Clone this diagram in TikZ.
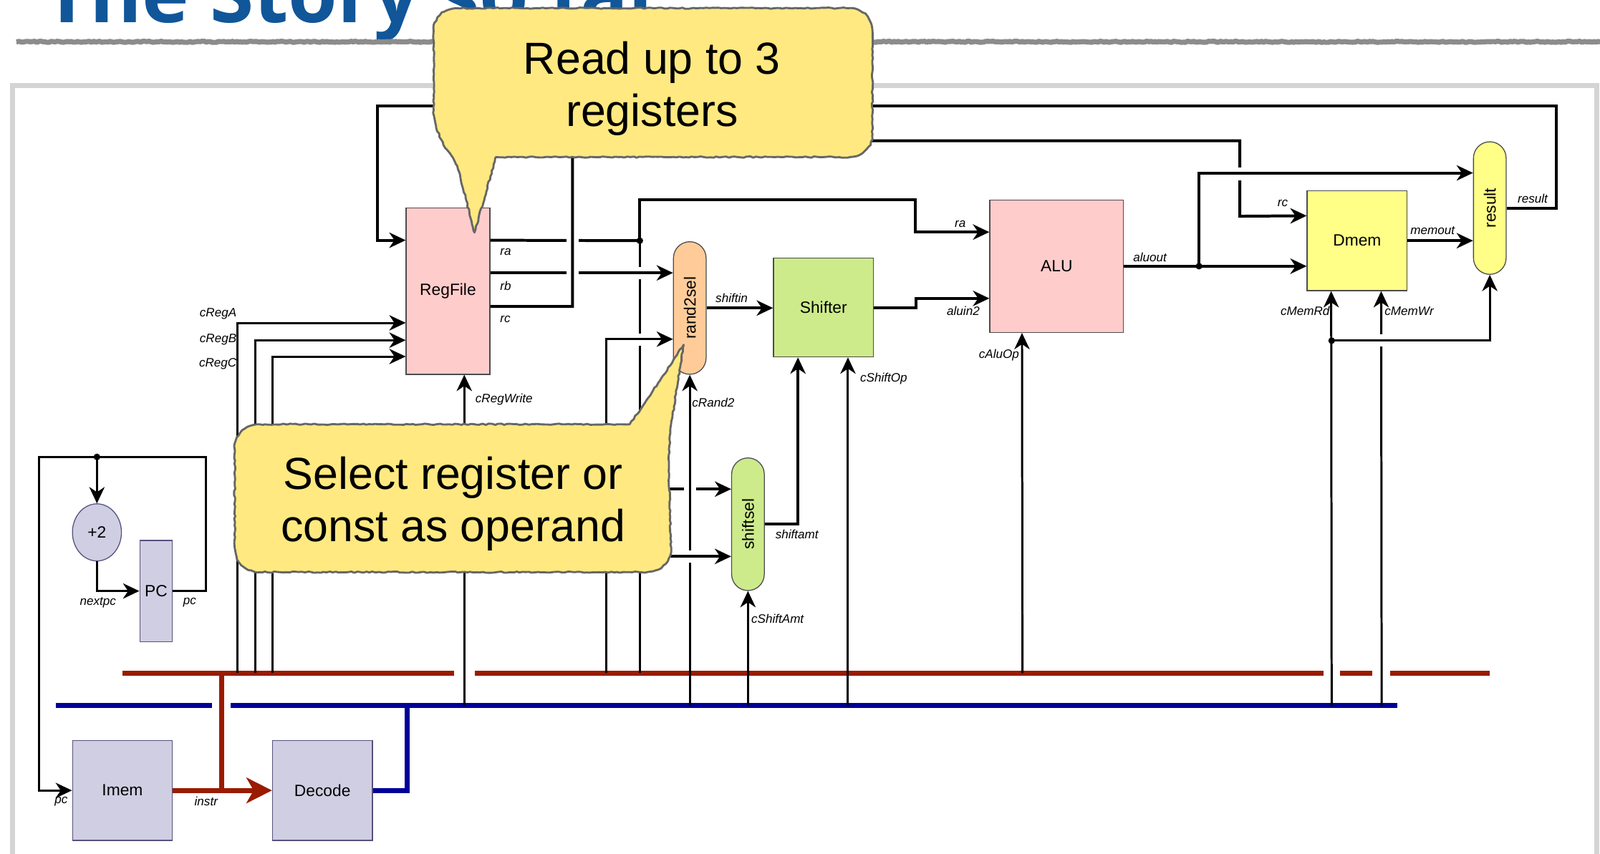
\documentclass[tikz,border=0pt]{standalone}
\usepackage{fontspec}
\setmainfont{Liberation Sans}
\newfontfamily\titlefont{Open Sans}
\usetikzlibrary{arrows.meta,calc,shapes.geometric,decorations.pathmorphing}

\definecolor{regpink}{RGB}{255,204,204}
\definecolor{selorange}{RGB}{255,204,153}
\definecolor{shiftgreen}{RGB}{205,235,139}
\definecolor{memyellow}{RGB}{255,255,136}
\definecolor{fetchlav}{RGB}{208,206,226}
\definecolor{fetchedge}{RGB}{86,81,126}
\definecolor{busred}{RGB}{153,27,0}
\definecolor{busblue}{RGB}{0,0,153}
\definecolor{notefill}{RGB}{255,233,128}
\definecolor{titleblue}{RGB}{16,86,153}
\definecolor{framegray}{RGB}{212,212,212}

\tikzset{
  unit/.style={draw=black!70, line width=0.9pt, inner sep=0pt, font=\fontsize{16}{18}\selectfont},
  blk/.style 2 args={unit, minimum width=#1, minimum height=#2},
  pill/.style={unit, minimum width=32pt, minimum height=130pt, rounded corners=16pt},
  wire/.style={line width=2.8pt},
  ctl/.style={line width=2.1pt},
  bus/.style={line width=5pt},
  lbl/.style={font=\fontsize{12}{14}\selectfont\itshape, inner sep=0pt},
  dot/.style={circle, fill=black, inner sep=0pt, minimum size=6.5pt},
  cutout/.style={fill=white},
  rule/.style={draw=black!45, line width=5pt, line join=round, decorate, decoration={random steps, segment length=2pt, amplitude=0.6pt}},
  note/.style={fill=notefill, draw=black!60, line width=2pt, line join=round, decorate, decoration={random steps, segment length=3pt, amplitude=0.6pt}},
  notetext/.style={font=\fontsize{44}{51}\selectfont, align=center, inner sep=0pt},
}

\begin{document}
\begin{tikzpicture}[x=1pt, y=-1pt, >={Stealth[length=16pt,width=15pt,inset=5pt]}]
\useasboundingbox (0,0) rectangle (1568,837);
\fill[white] (0,0) rectangle (1568,837);

\node[anchor=base west, inner sep=0pt, text=titleblue, font=\titlefont\bfseries\fontsize{78}{80}\selectfont] (title) at (43,22) {The Story so far};
\draw[rule] (16,41) -- (1568,41);
\draw[framegray, line width=5pt] (12,900) -- (12,84) -- (1565,84) -- (1565,900);

\node[blk={82pt}{163pt}, fill=regpink] (rf) at (439,285.5) {RegFile};
\node[pill, fill=selorange] (rs) at (676,302) {\rotatebox{90}{rand2sel}};
\node[blk={98pt}{97pt}, fill=shiftgreen] (sh) at (807,301.5) {Shifter};
\node[pill, fill=shiftgreen] (ss) at (733,514) {\rotatebox{90}{shiftsel}};
\node[blk={131pt}{130pt}, fill=regpink] (alu) at (1035.5,261) {ALU};
\node[blk={98pt}{98pt}, fill=memyellow] (dm) at (1330,236) {Dmem};
\node[pill, fill=memyellow] (res) at (1460,204) {\rotatebox{90}{result}};
\node[unit, ellipse, minimum width=48pt, minimum height=56pt, fill=fetchlav, draw=fetchedge] (inc) at (95,522) {+2};
\node[blk={32pt}{99pt}, fill=fetchlav, draw=fetchedge] (pc) at (153,579.5) {PC};
\node[blk={98pt}{98pt}, fill=fetchlav, draw=fetchedge] (im) at (120,775) {Imem};
\node[blk={98pt}{98pt}, fill=fetchlav, draw=fetchedge] (dec) at (316,775) {Decode};

\coordinate (cRegA) at (233,660);
\coordinate (cRegB) at (250,660);
\coordinate (cRegC) at (267,660);
\coordinate (imm) at (594,660);
\coordinate (immB) at (627,660);
\coordinate (cAluOp) at (1002,660);
\coordinate (cRegWrite) at (455,692);
\coordinate (cRand2) at (676,692);
\coordinate (cShiftAmt) at (733,692);
\coordinate (cShiftOp) at (831,692);
\coordinate (cMemRd) at (1305,692);
\coordinate (cMemWr) at (1354,692);
\coordinate (raj) at (627,236);
\coordinate (aoj) at (1175,261);
\coordinate (rdj) at (1305,334);
\coordinate (pcj) at (95,448);

\draw[bus, busred] (120,660) -- (445,660) (465,660) -- (1297,660) (1313,660) -- (1345,660) (1362,660) -- (1460,660);
\draw[bus, busblue] (55,692) -- (208,692) (226,692) -- (1369,692);
\draw[bus, busred] (217,660) -- (217,775);
\draw[bus, busred, -{Stealth[length=25pt,width=25pt,inset=7pt]}] (im.east) -- (dec.west);
\draw[bus, busblue] (dec.east) -| (399,692);

\draw[ctl,->] (pc.east) -- ++(32,0) |- (38,448) |- (im.west);
\draw[ctl,->] (pcj) -- (inc.north);
\draw[ctl,->] (inc.south) |- (pc.west);
\node[dot] (dpcj) at (pcj) {};

\draw[wire,->] (res.east) -- ++(49,0) |- (370,104) |- ($(rf.north west)+(0,32)$);
\draw[ctl,->] (cRegA) |- ($(rf.north west)+(0,113)$);
\draw[ctl,->] (cRegB) |- ($(rf.north west)+(0,130)$);
\draw[ctl,->] (cRegC) |- ($(rf.north west)+(0,146)$);
\draw[ctl,->] (cRegWrite) -- ($(rf.south)+(16,0)$);

\draw[ctl] (raj) -- (immB);
\draw[wire,->] ($(raj |- ss.north west)+(0,31)$) -- ($(ss.north west)+(0,31)$);
\fill[cutout] (621,262) rectangle (633,274);
\fill[cutout] (621,327) rectangle (633,339);
\draw[ctl,->] (imm) |- ($(rs.north west)+(0,96)$);
\draw[wire,->] ($(rf.north east)+(0,64)$) -- ($(rs.north west)+(0,31)$);
\draw[wire] ($(rf.north east)+(0,32)$) -- (raj);
\draw[wire,->] (raj) |- (897,196) |- ($(alu.north west)+(0,32)$);
\node[dot] (draj) at (raj) {};
\fill[cutout] (555,231) rectangle (567,241);
\fill[cutout] (555,263) rectangle (567,273);
\draw[wire,->] ($(rf.north east)+(0,97)$) -| (561,138) -| (1215,212) -- ($(dm.north west)+(0,25)$);
\fill[cutout] (1209,164) rectangle (1221,177);
\draw[wire,->] (aoj) |- ($(res.north west)+(0,31)$);
\draw[wire,->] (alu.east) -- (alu.east -| dm.west);
\node[dot] (daoj) at (aoj) {};
\draw[wire,->] (dm.east) -- (dm.east -| res.west);

\draw[wire,->] (rs.east) -- (rs.east -| sh.west);
\draw[wire,->] (sh.east) -- ++(41,0) |- ($(alu.north west)+(0,97)$);
\draw[wire,->] (ss.east) -| ($(sh.south)+(-25,0)$);

\fill[cutout] (670,475) rectangle (682,485);
\draw[ctl,->] (cRand2) -- (rs.south);
\fill[cutout] (670,540) rectangle (682,552);
\draw[wire,->] ($(imm |- ss.north west)+(0,97)$) -- ($(ss.north west)+(0,97)$);
\draw[ctl,->] (cShiftAmt) -- (ss.south);
\draw[ctl,->] (cShiftOp) -- ($(sh.south)+(24,0)$);
\draw[ctl,->] (cAluOp) -- ($(alu.south west)+(32,0)$);
\draw[ctl,->] (cMemRd) -- ($(dm.south west)+(24,0)$);
\draw[ctl,->] (cMemWr) -- ($(dm.south west)+(73,0)$);
\fill[cutout] (1348,328) rectangle (1360,340);
\draw[ctl,->] (rdj) -| (res.south);
\node[dot] (drdj) at (rdj) {};

\node[lbl, anchor=west] (nra) at (490,247) {ra};
\node[lbl, anchor=west] (nrb) at (490,280) {rb};
\node[lbl, anchor=west] (nrc) at (490,313) {rc};
\node[lbl, anchor=east] (ncRegA) at (232,308) {cRegA};
\node[lbl, anchor=east] (ncRegB) at (232,333) {cRegB};
\node[lbl, anchor=east] (ncRegC) at (232,357) {cRegC};
\node[lbl] (ncRegWrite) at (494,392) {cRegWrite};
\node[lbl] (nshiftin) at (717,292) {shiftin};
\node[lbl] (ncRand2) at (699,395) {cRand2};
\node[lbl] (nshiftamt) at (781,524) {shiftamt};
\node[lbl] (ncShiftAmt) at (762,607) {cShiftAmt};
\node[lbl] (ncShiftOp) at (866,371) {cShiftOp};
\node[lbl] (nalura) at (941,220) {ra};
\node[lbl] (naluin2) at (944,305) {aluin2};
\node[lbl] (ncAluOp) at (979,348) {cAluOp};
\node[lbl] (naluout) at (1127,252) {aluout};
\node[lbl] (ndmrc) at (1257,199) {rc};
\node[lbl] (nmemout) at (1404,226) {memout};
\node[lbl] (nresult) at (1502,195) {result};
\node[lbl] (ncMemRd) at (1279,305) {cMemRd};
\node[lbl] (ncMemWr) at (1381,305) {cMemWr};
\node[lbl] (nnextpc) at (96,591) {nextpc};
\node[lbl] (npc) at (186,591) {pc};
\node[lbl] (nimpc) at (60,786) {pc};
\node[lbl] (ninstr) at (202,786) {instr};

\path[note] (640,8) [rounded corners=22pt] -- (425,8) -- (425,130) [rounded corners=10pt] -- (447,158) [sharp corners] -- (465,228) -- (486,154) [rounded corners=22pt] -- (855,154) -- (855,8) -- (700,8) [sharp corners] -- cycle;
\node[notetext] (rdnote) at (639,87) {Read up to 3\\registers};

\path[note] (440,416) [rounded corners=24pt] -- (230,416) -- (230,561) -- (658,561) -- (655,434) [sharp corners] -- (670,338) -- (628,401) -- (617,416) -- cycle;
\node[notetext] (opnote) at (444,494) {Select register or\\const as operand};
\end{tikzpicture}
\end{document}
